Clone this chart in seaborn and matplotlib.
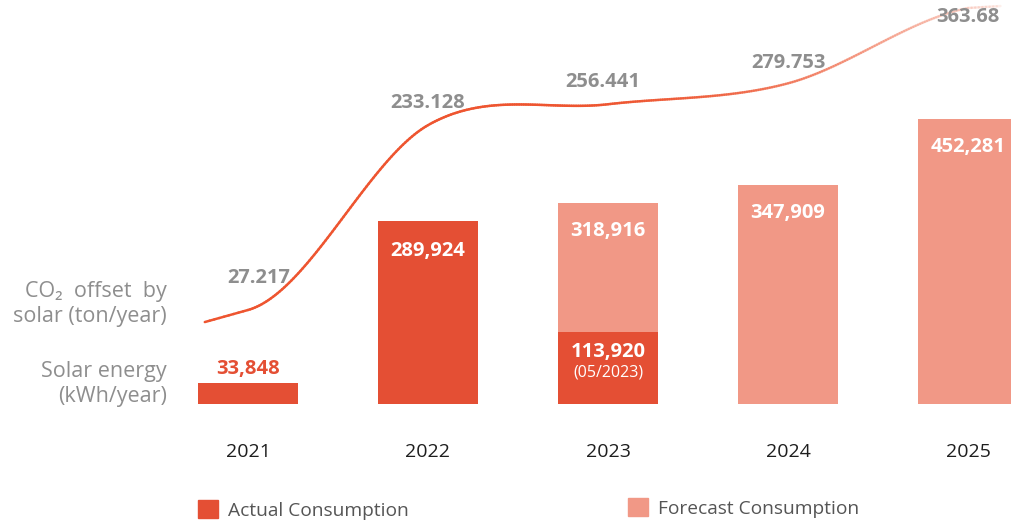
import numpy as np
import pandas as pd
import matplotlib
matplotlib.use("Agg")
import matplotlib.pyplot as plt
import seaborn as sns
from matplotlib.collections import LineCollection
from matplotlib.patches import Patch

# data
years = ["2021", "2022", "2023", "2024", "2025"]
actual = [33848, 289924, 113920, None, None]
forecast = [None, None, 318916, 347909, 452281]
co2 = [27.217, 233.128, 256.441, 279.753, 363.68]
actual_labels = ["33,848", "289,924", "113,920", None, None]
forecast_labels = [None, None, "318,916", "347,909", "452,281"]

c_actual = "#E44F34"
c_forecast = "#F19886"
c_line = "#EE5530"
c_gray = "#8E8E8E"

sns.set_theme(style="white")
plt.rcParams["font.family"] = ["Open Sans", "DejaVu Sans"]

rows = []
for y, a, f in zip(years, actual, forecast):
    if f is not None:
        rows.append({"year": y, "value": f, "kind": "Forecast Consumption"})
for y, a, f in zip(years, actual, forecast):
    if a is not None:
        rows.append({"year": y, "value": a, "kind": "Actual Consumption"})
df = pd.DataFrame(rows)

fig = plt.figure(figsize=(10.11, 5.23), dpi=100)
ax = fig.add_axes([0, 0, 1, 1])
sns.barplot(data=df, x="year", y="value", hue="kind", order=years,
            hue_order=["Forecast Consumption", "Actual Consumption"],
            palette={"Forecast Consumption": c_forecast, "Actual Consumption": c_actual},
            dodge=False, width=0.556, saturation=1, legend=False, ax=ax,
            linewidth=0, edgecolor="none")

px = 180.0  # pixels per category
ax.set_xlim(-248 / px, (1011 - 248) / px)
per_px = 1587.3
ax.set_ylim(-119 * per_px, 404 * per_px)
ax.set_axis_off()

def off(dx, dy):
    # pixel offset -> points
    return (dx * 0.72, dy * 0.72)

# bar labels
for i, (a, lab) in enumerate(zip(actual, actual_labels)):
    if lab is None:
        continue
    if i == 0:
        ax.annotate(lab, (i, a), xytext=off(0, 14), textcoords="offset points",
                    ha="center", va="center", fontsize=14.5, fontweight="bold", color=c_actual)
    elif i == 2:
        ax.annotate(lab, (i, a), xytext=off(0, -20), textcoords="offset points",
                    ha="center", va="center", fontsize=14.5, fontweight="bold", color="white")
        ax.annotate("(05/2023)", (i, a), xytext=off(0, -40), textcoords="offset points",
                    ha="center", va="center", fontsize=11.5, color="white")
    else:
        ax.annotate(lab, (i, a), xytext=off(0, -30), textcoords="offset points",
                    ha="center", va="center", fontsize=14.5, fontweight="bold", color="white")
for i, (f, lab) in enumerate(zip(forecast, forecast_labels)):
    if lab is None:
        continue
    ax.annotate(lab, (i, f), xytext=off(0, -28), textcoords="offset points",
                ha="center", va="center", fontsize=14.5, fontweight="bold", color="white")

# year labels
for i, y in enumerate(years):
    ax.annotate(y, (i, 0), xytext=off(0, -48), textcoords="offset points",
                ha="center", va="center", fontsize=14, color="#1E1E1E")

# CO2 line on a twin axis, smoothed with Hermite segments
ax2 = ax.twinx()
ax2.set_xlim(ax.get_xlim())
ax2.set_ylim(-210.1, 372.59)
ax2.set_axis_off()

xs = np.arange(len(co2), dtype=float)
ys = np.array(co2)
tan = np.gradient(ys, xs)
tan[0] = 56.0   # gentle ends
tan[-1] = 40.0
seg_x, seg_y = [], []
t0 = np.linspace(-0.24, 0, 10)
seg_x += list(t0); seg_y += list(ys[0] + tan[0] * t0)
for k in range(len(xs) - 1):
    t = np.linspace(0, 1, 80)
    h00 = 2 * t**3 - 3 * t**2 + 1
    h10 = t**3 - 2 * t**2 + t
    h01 = -2 * t**3 + 3 * t**2
    h11 = t**3 - t**2
    yy = h00 * ys[k] + h10 * tan[k] + h01 * ys[k + 1] + h11 * tan[k + 1]
    seg_x += list(xs[k] + t); seg_y += list(yy)
t1 = np.linspace(0, 0.18, 10)
seg_x += list(4 + t1); seg_y += list(ys[-1] + tan[-1] * 0.3 * t1)
seg_x = np.array(seg_x); seg_y = np.array(seg_y)
pts = np.column_stack([seg_x, seg_y]).reshape(-1, 1, 2)
segs = np.concatenate([pts[:-1], pts[1:]], axis=1)
alpha = np.clip(1 - (seg_x[:-1] - 1.8) / 2.4 * 0.92, 0.08, 1)
rgba = np.array([matplotlib.colors.to_rgba(c_line, a) for a in alpha])
ax2.add_collection(LineCollection(segs, colors=rgba, linewidths=1.8, capstyle="round"))

line_offsets = [(11, 32), (0, 22), (-5, 22), (0, 20), (0, -9)]
for i, v in enumerate(co2):
    dx, dy = line_offsets[i]
    ax2.annotate(f"{v:g}", (i, v), xytext=off(dx, dy), textcoords="offset points",
                 ha="center", va="center", fontsize=14.5, fontweight="bold", color=c_gray)

# left side captions
fig.text(167 / 1011, 1 - 304 / 523, "CO\u2082  offset  by\nsolar (ton/year)", ha="right", va="center",
         fontsize=15.5, color=c_gray, linespacing=1.2)
fig.text(167 / 1011, 1 - 384 / 523, "Solar energy\n(kWh/year)", ha="right", va="center",
         fontsize=15.5, color=c_gray, linespacing=1.2)

# legend
leg_kw = dict(frameon=False, handlelength=1.05, handleheight=1.05, handletextpad=0.52,
              borderpad=0, borderaxespad=0, fontsize=13.8, labelcolor="#555555")
fig.legend(handles=[Patch(color=c_actual, label="Actual Consumption")], loc="center left",
           bbox_to_anchor=(198 / 1011, 1 - 510 / 523), **leg_kw)
fig.legend(handles=[Patch(color=c_forecast, label="Forecast Consumption")], loc="center left",
           bbox_to_anchor=(628 / 1011, 1 - 508 / 523), **leg_kw)

fig.savefig("out.png", dpi=100)
